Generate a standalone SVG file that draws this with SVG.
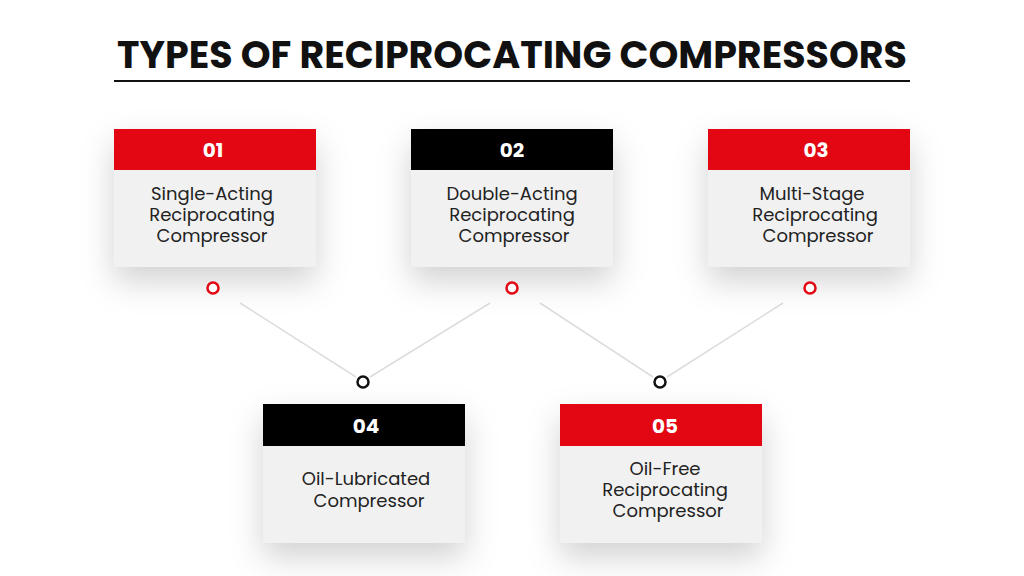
<svg xmlns="http://www.w3.org/2000/svg" width="1024" height="576" viewBox="0 0 1024 576">
<defs>
<filter id="sh" x="-40%" y="-40%" width="180%" height="200%"><feDropShadow dx="0" dy="14" stdDeviation="16" flood-color="#000" flood-opacity="0.18"/></filter>
<style>
.hd{font-family:Poppins,"Open Sans","Liberation Sans",sans-serif;font-weight:700;font-size:20px;fill:#fff;text-anchor:middle}
.bd{font-family:Poppins,"Open Sans","Liberation Sans",sans-serif;font-size:18px;fill:#222;text-anchor:middle}
.body{fill:#f1f1f1}
.red{fill:#e30613}
.blk{fill:#000}
.cr{fill:#fff;stroke:#e30613;stroke-width:2.5}
.cb{fill:#fff;stroke:#111;stroke-width:2.5}
.ln{stroke:#ddd;stroke-width:1.5;fill:none}
</style>
</defs>
<rect width="1024" height="576" fill="#fff"/>
<text x="512" y="68" font-family="Poppins,'Open Sans','Liberation Sans',sans-serif" font-weight="700" font-size="38" text-anchor="middle" fill="#111">TYPES OF RECIPROCATING COMPRESSORS</text>
<line x1="114" y1="81" x2="910" y2="81" stroke="#111" stroke-width="2"/>
<g id="connectors">
<line class="ln" x1="240" y1="303" x2="356" y2="377"/>
<line class="ln" x1="490" y1="303" x2="370" y2="377"/>
<line class="ln" x1="540" y1="303" x2="653" y2="377"/>
<line class="ln" x1="783" y1="303" x2="667" y2="377"/>
</g>
<g id="n1"><g filter="url(#sh)"><rect class="body" x="114" y="129" width="202" height="138"/></g><rect class="red" x="114" y="129" width="202" height="41"/><text class="hd" x="213" y="157">01</text><text class="bd" x="212" y="200">Single-Acting</text><text class="bd" x="212" y="221">Reciprocating</text><text class="bd" x="212" y="242">Compressor</text><circle class="cr" cx="213" cy="288" r="5.5"/></g>
<g id="n2"><g filter="url(#sh)"><rect class="body" x="411" y="129" width="202" height="138"/></g><rect class="blk" x="411" y="129" width="202" height="41"/><text class="hd" x="512" y="157">02</text><text class="bd" x="512" y="200">Double-Acting</text><text class="bd" x="512" y="221">Reciprocating</text><text class="bd" x="514" y="242">Compressor</text><circle class="cr" cx="512" cy="288" r="5.5"/></g>
<g id="n3"><g filter="url(#sh)"><rect class="body" x="708" y="129" width="202" height="138"/></g><rect class="red" x="708" y="129" width="202" height="41"/><text class="hd" x="816" y="157">03</text><text class="bd" x="812" y="200">Multi-Stage</text><text class="bd" x="815" y="221">Reciprocating</text><text class="bd" x="818" y="242">Compressor</text><circle class="cr" cx="810" cy="288" r="5.5"/></g>
<g id="n4"><circle class="cb" cx="363" cy="382" r="5.5"/><g filter="url(#sh)"><rect class="body" x="263" y="404" width="202" height="139"/></g><rect class="blk" x="263" y="404" width="202" height="42"/><text class="hd" x="366" y="433">04</text><text class="bd" x="366" y="485">Oil-Lubricated</text><text class="bd" x="369" y="507">Compressor</text></g>
<g id="n5"><circle class="cb" cx="660" cy="382" r="5.5"/><g filter="url(#sh)"><rect class="body" x="560" y="404" width="202" height="139"/></g><rect class="red" x="560" y="404" width="202" height="42"/><text class="hd" x="665" y="433">05</text><text class="bd" x="665" y="475">Oil-Free</text><text class="bd" x="665" y="496">Reciprocating</text><text class="bd" x="668" y="517">Compressor</text></g>
</svg>
